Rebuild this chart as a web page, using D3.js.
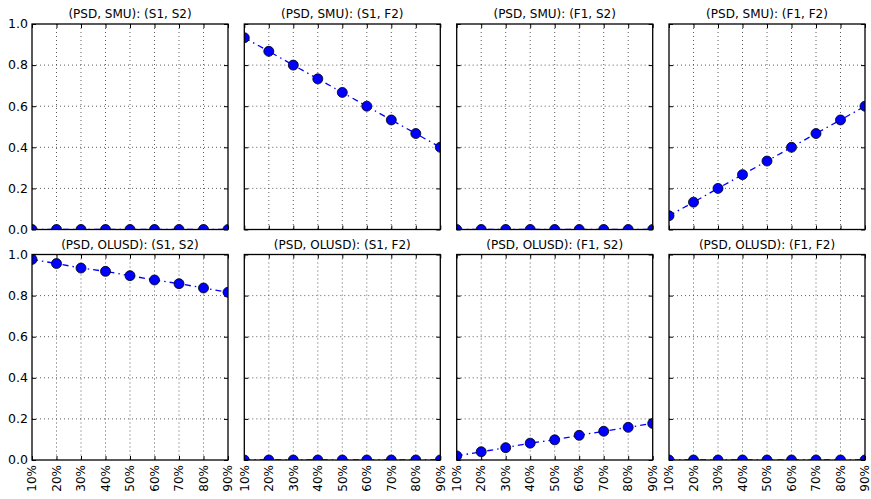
<!DOCTYPE html>
<html>
<head>
<meta charset="utf-8">
<script src="https://cdn.jsdelivr.net/npm/d3@7"></script>
<style>
  body { margin: 0; background: #fff; }
  svg text { font-family: "DejaVu Sans", sans-serif; fill: #000; }
</style>
</head>
<body>
<svg id="chart"></svg>
<script>
// x categories and y ticks
const levels = ["10%", "20%", "30%", "40%", "50%", "60%", "70%", "80%", "90%"];
const yTicks = [0, 0.2, 0.4, 0.6, 0.8, 1.0];

// panel titles, row by row
const titles = [
  "(PSD, SMU): (S1, S2)", "(PSD, SMU): (S1, F2)", "(PSD, SMU): (F1, S2)", "(PSD, SMU): (F1, F2)",
  "(PSD, OLUSD): (S1, S2)", "(PSD, OLUSD): (S1, F2)", "(PSD, OLUSD): (F1, S2)", "(PSD, OLUSD): (F1, F2)"
];

// values
const smuS1S2 = [0, 0, 0, 0, 0, 0, 0, 0, 0];
const smuS1F2 = [0.933, 0.867, 0.8, 0.733, 0.667, 0.6, 0.533, 0.467, 0.4];
const smuF1S2 = [0, 0, 0, 0, 0, 0, 0, 0, 0];
const smuF1F2 = [0.067, 0.133, 0.2, 0.267, 0.333, 0.4, 0.467, 0.533, 0.6];
const olusdS1S2 = [0.976, 0.956, 0.934, 0.918, 0.897, 0.876, 0.858, 0.837, 0.816];
const olusdS1F2 = [0, 0, 0, 0, 0, 0, 0, 0, 0];
const olusdF1S2 = [0.02, 0.04, 0.06, 0.082, 0.098, 0.12, 0.14, 0.159, 0.178];
const olusdF1F2 = [0, 0, 0, 0, 0, 0, 0, 0, 0];

const series = [smuS1S2, smuS1F2, smuF1S2, smuF1F2, olusdS1S2, olusdS1F2, olusdF1S2, olusdF1F2];

const W = 871, H = 499;
const svg = d3.select("#chart").attr("width", W).attr("height", H);

const pw = 196, ph = 205.5;
const lefts = [32, 244.3, 456.7, 669];
const tops = [24, 254.5];

const x = d3.scalePoint().domain(levels).range([0, pw]);
const y = d3.scaleLinear().domain([0, 1]).range([ph, 0]);

const line = d3.line()
  .x((d, i) => x(levels[i]))
  .y(d => y(d));

series.forEach((vals, k) => {
  const row = Math.floor(k / 4), col = k % 4;
  const g = svg.append("g")
    .attr("transform", `translate(${lefts[col]},${tops[row]})`);

  g.append("clipPath").attr("id", "clip" + k)
    .append("rect").attr("width", pw).attr("height", ph);

  // grid
  g.append("g").selectAll("line.gx")
    .data(levels.slice(1, -1))
    .join("line")
      .attr("x1", d => x(d)).attr("x2", d => x(d))
      .attr("y1", 0).attr("y2", ph)
      .attr("stroke", "#333").attr("stroke-width", 0.8)
      .attr("stroke-dasharray", "1,3");
  g.append("g").selectAll("line.gy")
    .data(yTicks.slice(1, -1))
    .join("line")
      .attr("y1", d => y(d)).attr("y2", d => y(d))
      .attr("x1", 0).attr("x2", pw)
      .attr("stroke", "#333").attr("stroke-width", 0.8)
      .attr("stroke-dasharray", "1,3");

  // inward ticks on all four sides
  const tickLen = 4;
  const axB = d3.axisBottom(x).tickSize(-tickLen).tickFormat("");
  const axT = d3.axisTop(x).tickSize(-tickLen).tickFormat("");
  const axL = d3.axisLeft(y).tickValues(yTicks).tickSize(-tickLen).tickFormat("");
  const axR = d3.axisRight(y).tickValues(yTicks).tickSize(-tickLen).tickFormat("");
  [[axB, `translate(0,${ph})`], [axT, null], [axL, null], [axR, `translate(${pw},0)`]]
    .forEach(([ax, tr]) => {
      const a = g.append("g").call(ax);
      if (tr) a.attr("transform", tr);
      a.select(".domain").remove();
      a.selectAll("line").attr("stroke", "#000").attr("stroke-width", 1);
    });

  // series
  const plot = g.append("g").attr("clip-path", `url(#clip${k})`);
  plot.append("path")
    .datum(vals)
    .attr("d", line)
    .attr("fill", "none")
    .attr("stroke", "#0000ff")
    .attr("stroke-width", 1.3)
    .attr("stroke-dasharray", "6,4,1.5,4");
  plot.selectAll("circle")
    .data(vals)
    .join("circle")
      .attr("cx", (d, i) => x(levels[i]))
      .attr("cy", d => y(d))
      .attr("r", 5)
      .attr("fill", "#0000ff")
      .attr("stroke", "#000")
      .attr("stroke-width", 0.8);

  // frame
  g.append("rect")
    .attr("width", pw).attr("height", ph)
    .attr("fill", "none").attr("stroke", "#000").attr("stroke-width", 1.3);

  // title
  g.append("text")
    .attr("x", pw / 2).attr("y", -6)
    .attr("text-anchor", "middle")
    .attr("font-size", 12)
    .attr("fill", "#222")
    .text(titles[k]);

  // y labels on first column
  if (col === 0) {
    g.append("g").selectAll("text")
      .data(yTicks)
      .join("text")
        .attr("x", -4).attr("y", d => y(d))
        .attr("dy", "0.35em")
        .attr("text-anchor", "end")
        .attr("font-size", 12.5)
        .text(d3.format(".1f"));
  }

  // rotated x labels on bottom row
  if (row === 1) {
    g.append("g").selectAll("text")
      .data(levels)
      .join("text")
        .attr("transform", d => `translate(${x(d)},${ph + 5}) rotate(-90)`)
        .attr("dy", "0.35em")
        .attr("text-anchor", "end")
        .attr("font-size", 12)
        .text(d => d);
  }
});
</script>
</body>
</html>
